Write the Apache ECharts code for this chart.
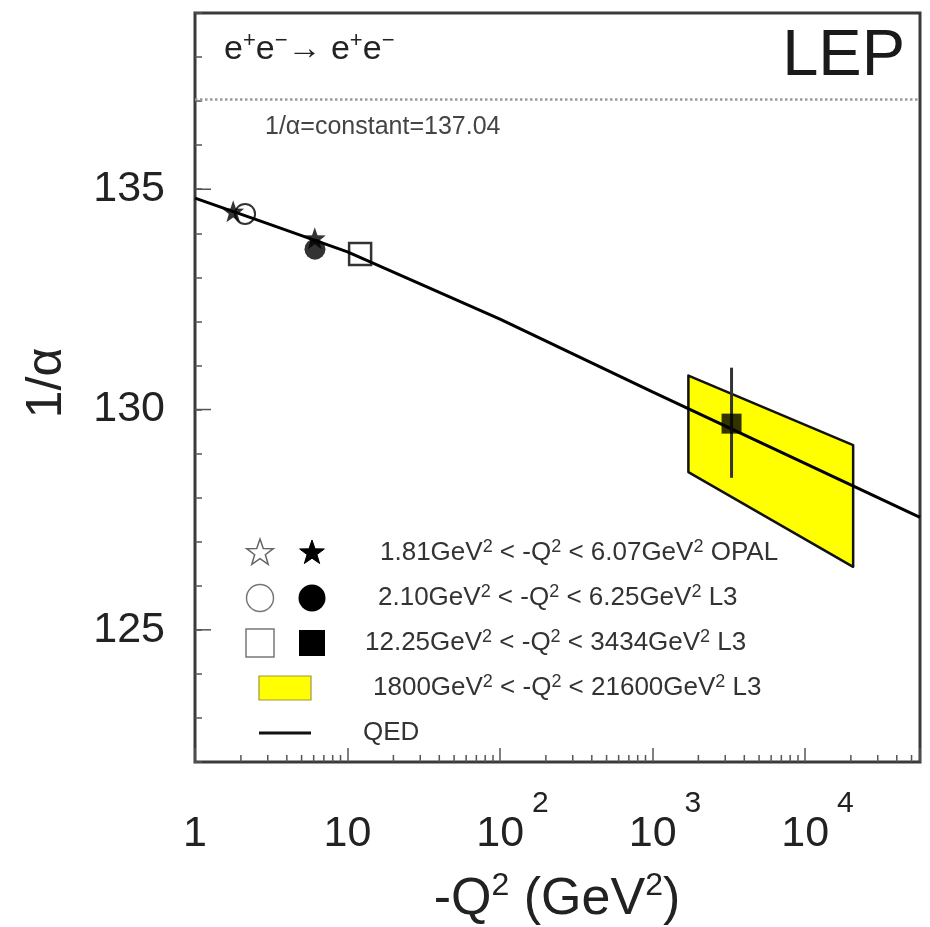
<!DOCTYPE html>
<html>
<head>
<meta charset="utf-8">
<title>Running 1/alpha at LEP</title>
<script src="https://cdn.jsdelivr.net/npm/echarts/dist/echarts.min.js"></script>
<style>
  html, body { margin: 0; padding: 0; background: #ffffff; }
  #chart { width: 930px; height: 927px; }
</style>
</head>
<body>
<div id="chart"></div>
<script>
// ---- axis ranges ----
const q2Min = 1;
const q2Max = 56800;
const invAlphaMin = 122;
const invAlphaMax = 139;
const yLabelValues = [125, 130, 135];

// Thomson-limit value, drawn as a dotted reference line
const invAlphaConst = 137.04;

// QED running of 1/alpha
const qedQ2 = [1, 3, 10, 100, 1000, 10000, 56800];
const qedInvAlpha = [134.80, 134.22, 133.58, 132.05, 130.40, 128.78, 127.55];

// OPAL measurements (filled stars)
const opalQ2 = [1.78, 6.1];
const opalInvAlpha = [134.50, 133.89];

// L3 low-Q2 measurements
const l3OpenCircleQ2 = [2.13];
const l3OpenCircleInvAlpha = [134.44];
const l3FilledCircleQ2 = [6.12];
const l3FilledCircleInvAlpha = [133.64];
const l3OpenSquareQ2 = [12.1];
const l3OpenSquareInvAlpha = [133.53];

// L3 high-Q2 measurement with its error bar
const l3FilledSquareQ2 = [3300];
const l3FilledSquareInvAlpha = [129.68];
const l3ErrLow = [128.45];
const l3ErrHigh = [130.95];

// L3 1800-21600 GeV2 band (edges in Q2, upper and lower 1/alpha at each edge)
const bandQ2 = [1720, 20700];
const bandUpper = [130.77, 129.19];
const bandLower = [128.58, 126.43];

// legend content
const rangeLow = ['1.81', '2.10', '12.25', '1800'];
const rangeHigh = ['6.07', '6.25', '3434', '21600'];
const experiment = ['OPAL', 'L3', 'L3', 'L3'];

const FONT = '"Liberation Sans", Arial, Helvetica, sans-serif';
const INK = '#222222';
const FRAME = '#3a3a3a';

function pairs(xs, ys) { return xs.map((x, i) => [x, ys[i]]); }

// minor ticks of the log axis: 2..9 within each decade
const xMinorTicks = [];
for (let d = 0; d < 5; d++) {
  for (let k = 2; k <= 9; k++) {
    const v = k * Math.pow(10, d);
    if (v < q2Max) xMinorTicks.push([v, invAlphaMin]);
  }
}

const STAR = 'path://M0,-10L2.35,-3.24L9.51,-3.09L3.8,1.24L5.88,8.09L0,4.1L-5.88,8.09L-3.8,1.24L-9.51,-3.09L-2.35,-3.24Z';

const chart = echarts.init(document.getElementById('chart'), null, { renderer: 'canvas' });

// legend block drawn inside the frame
const rowY = [553, 598, 643, 688, 733];
const rowTextX = [380, 378, 365, 373, 363];
const legendRich = {
  s: { fontSize: 18, lineHeight: 10, verticalAlign: 'top', fontFamily: FONT, fill: '#333' }
};
function starPoints(cx, cy, r) {
  const pts = [];
  for (let i = 0; i < 10; i++) {
    const a = -Math.PI / 2 + i * Math.PI / 5;
    const rr = i % 2 === 0 ? r : r * 0.4;
    pts.push([cx + rr * Math.cos(a), cy + rr * Math.sin(a)]);
  }
  return pts;
}
const legendGraphics = [];
rangeLow.forEach((lo, i) => {
  legendGraphics.push({
    type: 'text', x: rowTextX[i], y: rowY[i], z: 10,
    style: {
      text: lo + 'GeV{s|2} < -Q{s|2} < ' + rangeHigh[i] + 'GeV{s|2} ' + experiment[i],
      fontSize: 26, lineHeight: 30, fontFamily: FONT, fill: '#333',
      align: 'left', verticalAlign: 'middle', rich: legendRich
    }
  });
});
legendGraphics.push(
  { type: 'text', x: rowTextX[4], y: rowY[4], z: 10,
    style: { text: 'QED', fontSize: 26, fontFamily: FONT, fill: '#333', align: 'left', verticalAlign: 'middle' } },
  // open / filled stars
  { type: 'polygon', z: 10, shape: { points: starPoints(260, rowY[0], 14) },
    style: { fill: 'none', stroke: '#666', lineWidth: 1.5 } },
  { type: 'polygon', z: 10, shape: { points: starPoints(312, rowY[0], 13) },
    style: { fill: '#000', stroke: '#000', lineWidth: 1 } },
  // open / filled circles
  { type: 'circle', z: 10, shape: { cx: 260, cy: rowY[1], r: 13.5 },
    style: { fill: 'none', stroke: '#777', lineWidth: 1.5 } },
  { type: 'circle', z: 10, shape: { cx: 312, cy: rowY[1], r: 13.5 },
    style: { fill: '#000' } },
  // open / filled squares
  { type: 'rect', z: 10, shape: { x: 246, y: rowY[2] - 14, width: 28, height: 28 },
    style: { fill: 'none', stroke: '#777', lineWidth: 1.5 } },
  { type: 'rect', z: 10, shape: { x: 299, y: rowY[2] - 13, width: 26, height: 26 },
    style: { fill: '#000' } },
  // band swatch
  { type: 'rect', z: 10, shape: { x: 259, y: rowY[3] - 12, width: 52, height: 24 },
    style: { fill: '#ffff00', stroke: '#9a9a40', lineWidth: 1.2 } },
  // QED swatch
  { type: 'line', z: 10, shape: { x1: 259, y1: rowY[4], x2: 311, y2: rowY[4] },
    style: { stroke: '#111', lineWidth: 3 } }
);

const option = {
  animation: false,
  backgroundColor: '#ffffff',
  grid: {
    left: 195, right: 10, top: 13, bottom: 165,
    show: true, borderColor: FRAME, borderWidth: 3, backgroundColor: 'transparent'
  },
  xAxis: {
    type: 'log', logBase: 10, min: q2Min, max: q2Max,
    axisLine: { show: false },
    splitLine: { show: false },
    axisTick: { show: true, inside: true, length: 14, lineStyle: { color: '#555', width: 1.5 } },
    minorTick: { show: false },
    axisLabel: {
      margin: 27, color: INK, fontFamily: FONT,
      formatter: function (v) {
        const e = Math.log10(v);
        const n = Math.round(e);
        if (Math.abs(e - n) > 1e-6) return '';
        if (n === 0) return '{b|1}';
        if (n === 1) return '{b|10}';
        return '{bp|10}{sup|' + n + '}';
      },
      rich: {
        b: { fontSize: 43, lineHeight: 90, fontFamily: FONT, color: INK },
        bp: { fontSize: 43, lineHeight: 90, fontFamily: FONT, color: INK, padding: [0, 0, 0, 25] },
        sup: { fontSize: 30, lineHeight: 22, verticalAlign: 'top', fontFamily: FONT, color: INK, padding: [0, 0, 0, 8] }
      }
    }
  },
  yAxis: {
    type: 'value', min: invAlphaMin, max: invAlphaMax, interval: 1,
    axisLine: { show: false },
    splitLine: { show: false },
    axisTick: { show: true, inside: true, length: 7, lineStyle: { color: '#555', width: 1.5 } },
    axisLabel: {
      margin: 30, fontSize: 43, color: INK, fontFamily: FONT,
      formatter: function (v) { return yLabelValues.indexOf(v) >= 0 ? String(v) : ''; }
    }
  },
  graphic: [
    { type: 'text', x: 224, y: 50, z: 10,
      style: { text: 'e{s|+}e{s|−}→ e{s|+}e{s|−}', fontSize: 34, lineHeight: 40, fontFamily: FONT, fill: INK,
        align: 'left', verticalAlign: 'middle',
        rich: { s: { fontSize: 22, lineHeight: 14, verticalAlign: 'top', fontFamily: FONT, fill: INK } } } },
    { type: 'text', x: 905, y: 57, z: 10,
      style: { text: 'LEP', fontSize: 65, fontFamily: FONT, fill: '#1a1a1a', align: 'right', verticalAlign: 'middle' } },
    { type: 'text', x: 265, y: 127, z: 10,
      style: { text: '1/α=constant=' + invAlphaConst.toFixed(2), fontSize: 25, fontFamily: FONT, fill: '#444',
        align: 'left', verticalAlign: 'middle' } },
    { type: 'text', x: 47, y: 383, rotation: Math.PI / 2, z: 10,
      style: { text: '1/α', fontSize: 50, fontFamily: FONT, fill: INK, align: 'center', verticalAlign: 'middle' } },
    { type: 'text', x: 557, y: 900, z: 10,
      style: { text: '-Q{s|2} (GeV{s|2})', fontSize: 52, lineHeight: 60, fontFamily: FONT, fill: INK,
        align: 'center', verticalAlign: 'middle',
        rich: { s: { fontSize: 32, lineHeight: 16, verticalAlign: 'top', fontFamily: FONT, fill: INK } } } }
  ].concat(legendGraphics),
  series: [
    {
      // the L3 high-Q2 band
      name: 'band', type: 'custom', z: 1,
      data: [[bandQ2[0], bandUpper[0]]],
      renderItem: function (params, api) {
        const pts = [
          api.coord([bandQ2[0], bandUpper[0]]),
          api.coord([bandQ2[1], bandUpper[1]]),
          api.coord([bandQ2[1], bandLower[1]]),
          api.coord([bandQ2[0], bandLower[0]])
        ];
        return { type: 'polygon', shape: { points: pts },
          style: { fill: '#ffff00', stroke: '#111', lineWidth: 2.5, lineJoin: 'round' } };
      }
    },
    {
      name: 'QED', type: 'line', z: 2,
      data: pairs(qedQ2, qedInvAlpha),
      showSymbol: false, smooth: false,
      lineStyle: { color: '#000', width: 3 },
      markLine: {
        silent: true, symbol: 'none',
        label: { show: false },
        lineStyle: { type: 'dotted', color: '#9a9a9a', width: 2.5 },
        data: [{ yAxis: invAlphaConst }]
      }
    },
    {
      name: 'OPAL', type: 'scatter', z: 3,
      data: pairs(opalQ2, opalInvAlpha),
      symbol: STAR, symbolSize: 22,
      itemStyle: { color: '#000' }
    },
    {
      name: 'L3 open circle', type: 'scatter', z: 3,
      data: pairs(l3OpenCircleQ2, l3OpenCircleInvAlpha),
      symbol: 'circle', symbolSize: 20,
      itemStyle: { color: 'rgba(255,255,255,0)', borderColor: '#000', borderWidth: 2 }
    },
    {
      name: 'L3 filled circle', type: 'scatter', z: 3,
      data: pairs(l3FilledCircleQ2, l3FilledCircleInvAlpha),
      symbol: 'circle', symbolSize: 21,
      itemStyle: { color: '#000' }
    },
    {
      name: 'L3 open square', type: 'scatter', z: 3,
      data: pairs(l3OpenSquareQ2, l3OpenSquareInvAlpha),
      symbol: 'rect', symbolSize: 22,
      itemStyle: { color: 'rgba(255,255,255,0)', borderColor: '#000', borderWidth: 2.5 }
    },
    {
      name: 'L3 error bar', type: 'custom', z: 3,
      data: l3FilledSquareQ2.map((x, i) => [x, l3ErrLow[i], l3ErrHigh[i]]),
      renderItem: function (params, api) {
        const lo = api.coord([api.value(0), api.value(1)]);
        const hi = api.coord([api.value(0), api.value(2)]);
        return { type: 'line', shape: { x1: lo[0], y1: lo[1], x2: hi[0], y2: hi[1] },
          style: { stroke: '#333', lineWidth: 3 } };
      }
    },
    {
      name: 'L3 filled square', type: 'scatter', z: 4,
      data: pairs(l3FilledSquareQ2, l3FilledSquareInvAlpha),
      symbol: 'rect', symbolSize: 20,
      itemStyle: { color: '#000' }
    },
    {
      // log-axis minor ticks
      name: 'x minor ticks', type: 'custom', z: 5, silent: true,
      data: xMinorTicks,
      renderItem: function (params, api) {
        const p = api.coord([api.value(0), api.value(1)]);
        return { type: 'line', shape: { x1: p[0], y1: p[1], x2: p[0], y2: p[1] - 7 },
          style: { stroke: '#555', lineWidth: 1.5 } };
      }
    },
    {
      // longer ticks at the labelled 1/alpha values
      name: 'y major ticks', type: 'custom', z: 5, silent: true,
      data: yLabelValues.map(v => [q2Min, v]),
      renderItem: function (params, api) {
        const p = api.coord([api.value(0), api.value(1)]);
        return { type: 'line', shape: { x1: p[0], y1: p[1], x2: p[0] + 16, y2: p[1] },
          style: { stroke: '#555', lineWidth: 1.5 } };
      }
    }
  ]
};

chart.setOption(option);
</script>
</body>
</html>
